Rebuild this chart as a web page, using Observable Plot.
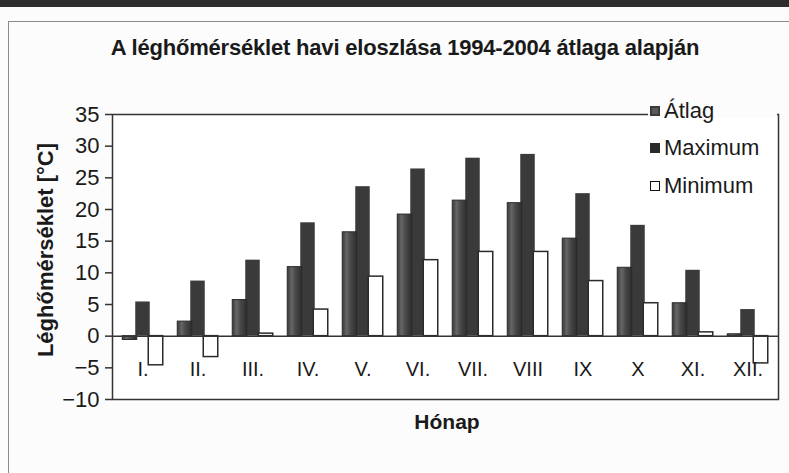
<!DOCTYPE html>
<html><head><meta charset="utf-8">
<script src="https://cdn.jsdelivr.net/npm/d3@7"></script>
<script src="https://cdn.jsdelivr.net/npm/@observablehq/plot@0.6"></script>
<style>
body{margin:0;background:#fff;}
#wrap{position:relative;width:789px;height:473px;overflow:hidden;background:#fcfcfc;font-family:"Liberation Sans",Arial,sans-serif;color:#1a1a1a;}
#topband{position:absolute;left:0;top:0;width:789px;height:7px;background:#2e2e2e;}
#panel{position:absolute;left:8px;top:21px;width:800px;height:470px;border:1.5px solid #8a8a8a;box-sizing:border-box;}
#title{position:absolute;left:0;top:35px;width:810px;text-align:center;font-weight:bold;font-size:22px;letter-spacing:-0.2px;}
#chart{position:absolute;left:0;top:0;}
#ylabel{position:absolute;left:46px;top:250px;transform:translate(-50%,-50%) rotate(-90deg);white-space:nowrap;font-weight:bold;font-size:22px;}
#xlabel{position:absolute;left:447px;top:422px;transform:translate(-50%,-50%);font-weight:bold;font-size:21px;}
#legendbg{position:absolute;left:648px;top:108px;width:129px;height:10px;background:#fcfcfc;}
#legend{position:absolute;left:650px;top:92px;}
.item{display:flex;align-items:center;height:37.5px;font-size:22px;}
.sw{width:10px;height:10px;margin-right:4px;box-sizing:border-box;}
</style></head><body>
<svg width="0" height="0" style="position:absolute">
 <defs>
  <linearGradient id="atlagGrad" x1="0" x2="1" y1="0" y2="0">
   <stop offset="0" stop-color="#3a3a3a"/>
   <stop offset="0.3" stop-color="#666"/>
   <stop offset="0.55" stop-color="#4a4a4a"/>
   <stop offset="1" stop-color="#2e2e2e"/>
  </linearGradient>
 </defs>
</svg>
<div id="wrap">
 <div id="topband"></div>
 <div id="panel"></div>
 <div id="title">A léghőmérséklet havi eloszlása 1994-2004 átlaga alapján</div>
 <div id="chart"></div>
 <div id="ylabel">Léghőmérséklet [°C]</div>
 <div id="xlabel">Hónap</div>
 <div id="legendbg"></div>
 <div id="legend"></div>
</div>
<script>
const months = ["I.","II.","III.","IV.","V.","VI.","VII.","VIII","IX","X","XI.","XII."];
const atlag = [-0.6, 2.3, 5.7, 10.9, 16.4, 19.2, 21.4, 21.0, 15.4, 10.8, 5.2, 0.3];
const maximum = [5.4, 8.7, 12.0, 17.9, 23.6, 26.4, 28.1, 28.7, 22.5, 17.5, 10.4, 4.2];
const minimum = [-4.6, -3.3, 0.4, 4.2, 9.4, 12.0, 13.3, 13.3, 8.7, 5.2, 0.6, -4.3];
const seriesNames = ["Átlag", "Maximum", "Minimum"];
const seriesFills = ["url(#atlagGrad)", "#3a3a3a", "#ffffff"];
const yTicks = [35, 30, 25, 20, 15, 10, 5, 0, -5, -10];

const rows = months.map((m, i) => ({month: m, atlag: atlag[i], max: maximum[i], min: minimum[i]}));
const inset = 20.25;

const chart = Plot.plot({
  width: 789, height: 473,
  marginLeft: 112, marginRight: 11, marginTop: 114, marginBottom: 74,
  style: {background: "transparent", fontFamily: "'Liberation Sans', Arial, sans-serif", color: "#1a1a1a"},
  x: {domain: months, padding: 0, axis: null},
  y: {domain: [-10, 35], axis: null},
  marks: [
    Plot.frame({fill: "#ffffff", stroke: "#333", strokeWidth: 1.5}),
    Plot.axisY(yTicks, {tickSize: 7, tickPadding: 6, fontSize: 22, label: null, stroke: "#333", strokeWidth: 1.5}),
    Plot.barY(rows, {x: "month", y: "max", fill: seriesFills[1], insetLeft: inset, insetRight: inset}),
    Plot.barY(rows, {x: "month", y: "atlag", fill: seriesFills[0], stroke: "#2a2a2a", strokeWidth: 1, dx: -13, insetLeft: inset, insetRight: inset}),
    Plot.barY(rows, {x: "month", y: "min", fill: seriesFills[2], stroke: "#2a2a2a", strokeWidth: 1.5, dx: 13, insetLeft: inset, insetRight: inset}),
    Plot.ruleY([0], {stroke: "#333", strokeWidth: 1.5}),
    Plot.text(months, {x: d => d, frameAnchor: "bottom", dy: -24, fontSize: 20, fill: "#1a1a1a"})
  ]
});
document.getElementById("chart").appendChild(chart);

const legend = document.getElementById("legend");
seriesNames.forEach((name, i) => {
  const it = document.createElement("div");
  it.className = "item";
  const sw = document.createElement("div");
  sw.className = "sw";
  if (i === 0) { sw.style.background = "#5a5a5a"; sw.style.border = "2px solid #3a3a3a"; }
  else if (i === 1) { sw.style.background = "#2a2a2a"; }
  else { sw.style.background = "#fff"; sw.style.border = "1.5px solid #111"; }
  it.appendChild(sw);
  const t = document.createElement("span");
  t.textContent = name;
  it.appendChild(t);
  legend.appendChild(it);
});
</script>
</body></html>
